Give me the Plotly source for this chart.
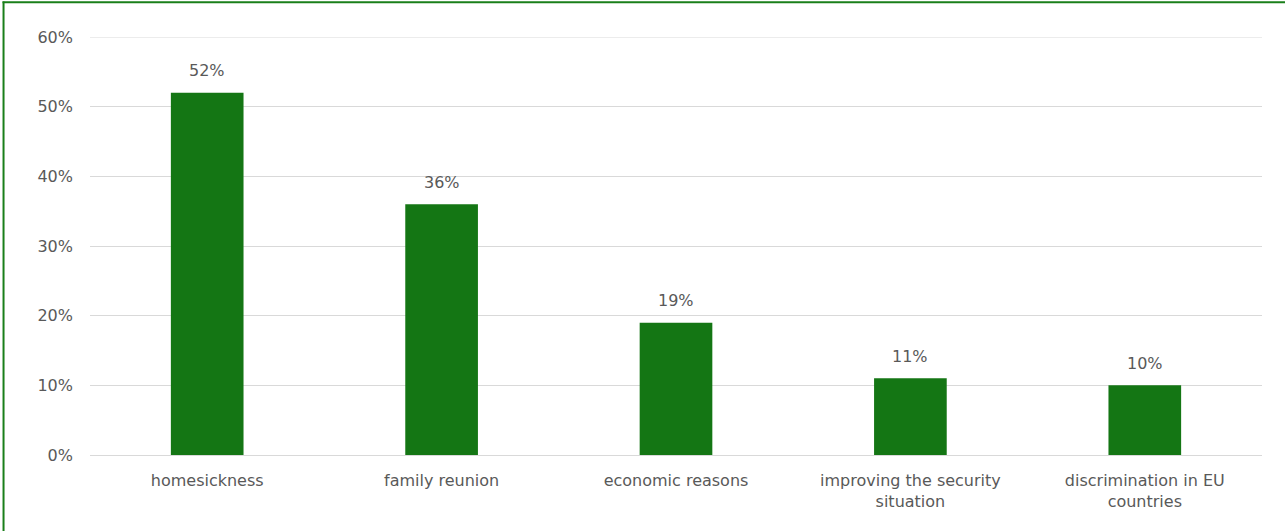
import plotly.graph_objects as go

categories = ["homesickness", "family reunion", "economic reasons",
              "improving the security<br>situation", "discrimination in EU<br>countries"]
values = [52, 36, 19, 11, 10]
labels = ["52%", "36%", "19%", "11%", "10%"]
y_ticks = [0, 10, 20, 30, 40, 50, 60]
y_ticktext = ["0%", "10%", "20%", "30%", "40%", "50%", "60%"]

BAR = "#147614"
TXT = "#595959"
GRID = "#d9d9d9"
FONT = "DejaVu Sans"
FS = 16

fig = go.Figure()
fig.add_trace(go.Bar(x=categories, y=values, marker=dict(color=BAR, line=dict(width=0)),
                     hoverinfo="skip"))

for c, v, t in zip(categories, values, labels):
    fig.add_annotation(x=c, y=v, text=t, showarrow=False, yshift=22,
                       font=dict(family=FONT, size=FS, color=TXT))

L, T = 90, 37
W, H = 1285, 531
PW, PH = 1172.5, 418
R = W - L - PW
B = H - T - PH

def px(x):
    return (x - L) / PW

def py(y):
    return (T + PH - y) / PH

# top gridline (at the range edge, where plotly omits it)
fig.add_shape(type="line", xref="paper", yref="y", x0=0, x1=1,
              y0=y_ticks[-1], y1=y_ticks[-1],
              line=dict(color=GRID, width=1), layer="below")

BORDER = "#1a7f1a"
# left border line
fig.add_shape(type="line", xref="paper", yref="paper",
              x0=px(3.5), x1=px(3.5), y0=py(535), y1=py(1.5),
              line=dict(color=BORDER, width=2), layer="below")
# top border line
fig.add_shape(type="line", xref="paper", yref="paper",
              x0=px(2.5), x1=px(1290), y0=py(2.2), y1=py(2.2),
              line=dict(color=BORDER, width=2), layer="below")

fig.update_layout(
    width=W, height=H,
    margin=dict(l=L, r=R, t=T, b=B, pad=0),
    paper_bgcolor="white", plot_bgcolor="white",
    bargap=0.69,
    showlegend=False,
    font=dict(family=FONT, size=FS, color=TXT),
    xaxis=dict(showgrid=False, showline=False, zeroline=False, ticks="",
               tickfont=dict(family=FONT, size=FS, color=TXT), ticklabelstandoff=14),
    yaxis=dict(range=[0, 60], tickvals=y_ticks, ticktext=y_ticktext,
               showgrid=True, gridcolor=GRID, gridwidth=1,
               zeroline=True, zerolinecolor=GRID, zerolinewidth=1,
               showline=False, ticks="",
               tickfont=dict(family=FONT, size=FS, color=TXT), ticklabelstandoff=16),
)

fig.write_html("out.html", config={"displayModeBar": False},
               post_script="document.body.style.margin='0';document.body.style.overflow='hidden';")
